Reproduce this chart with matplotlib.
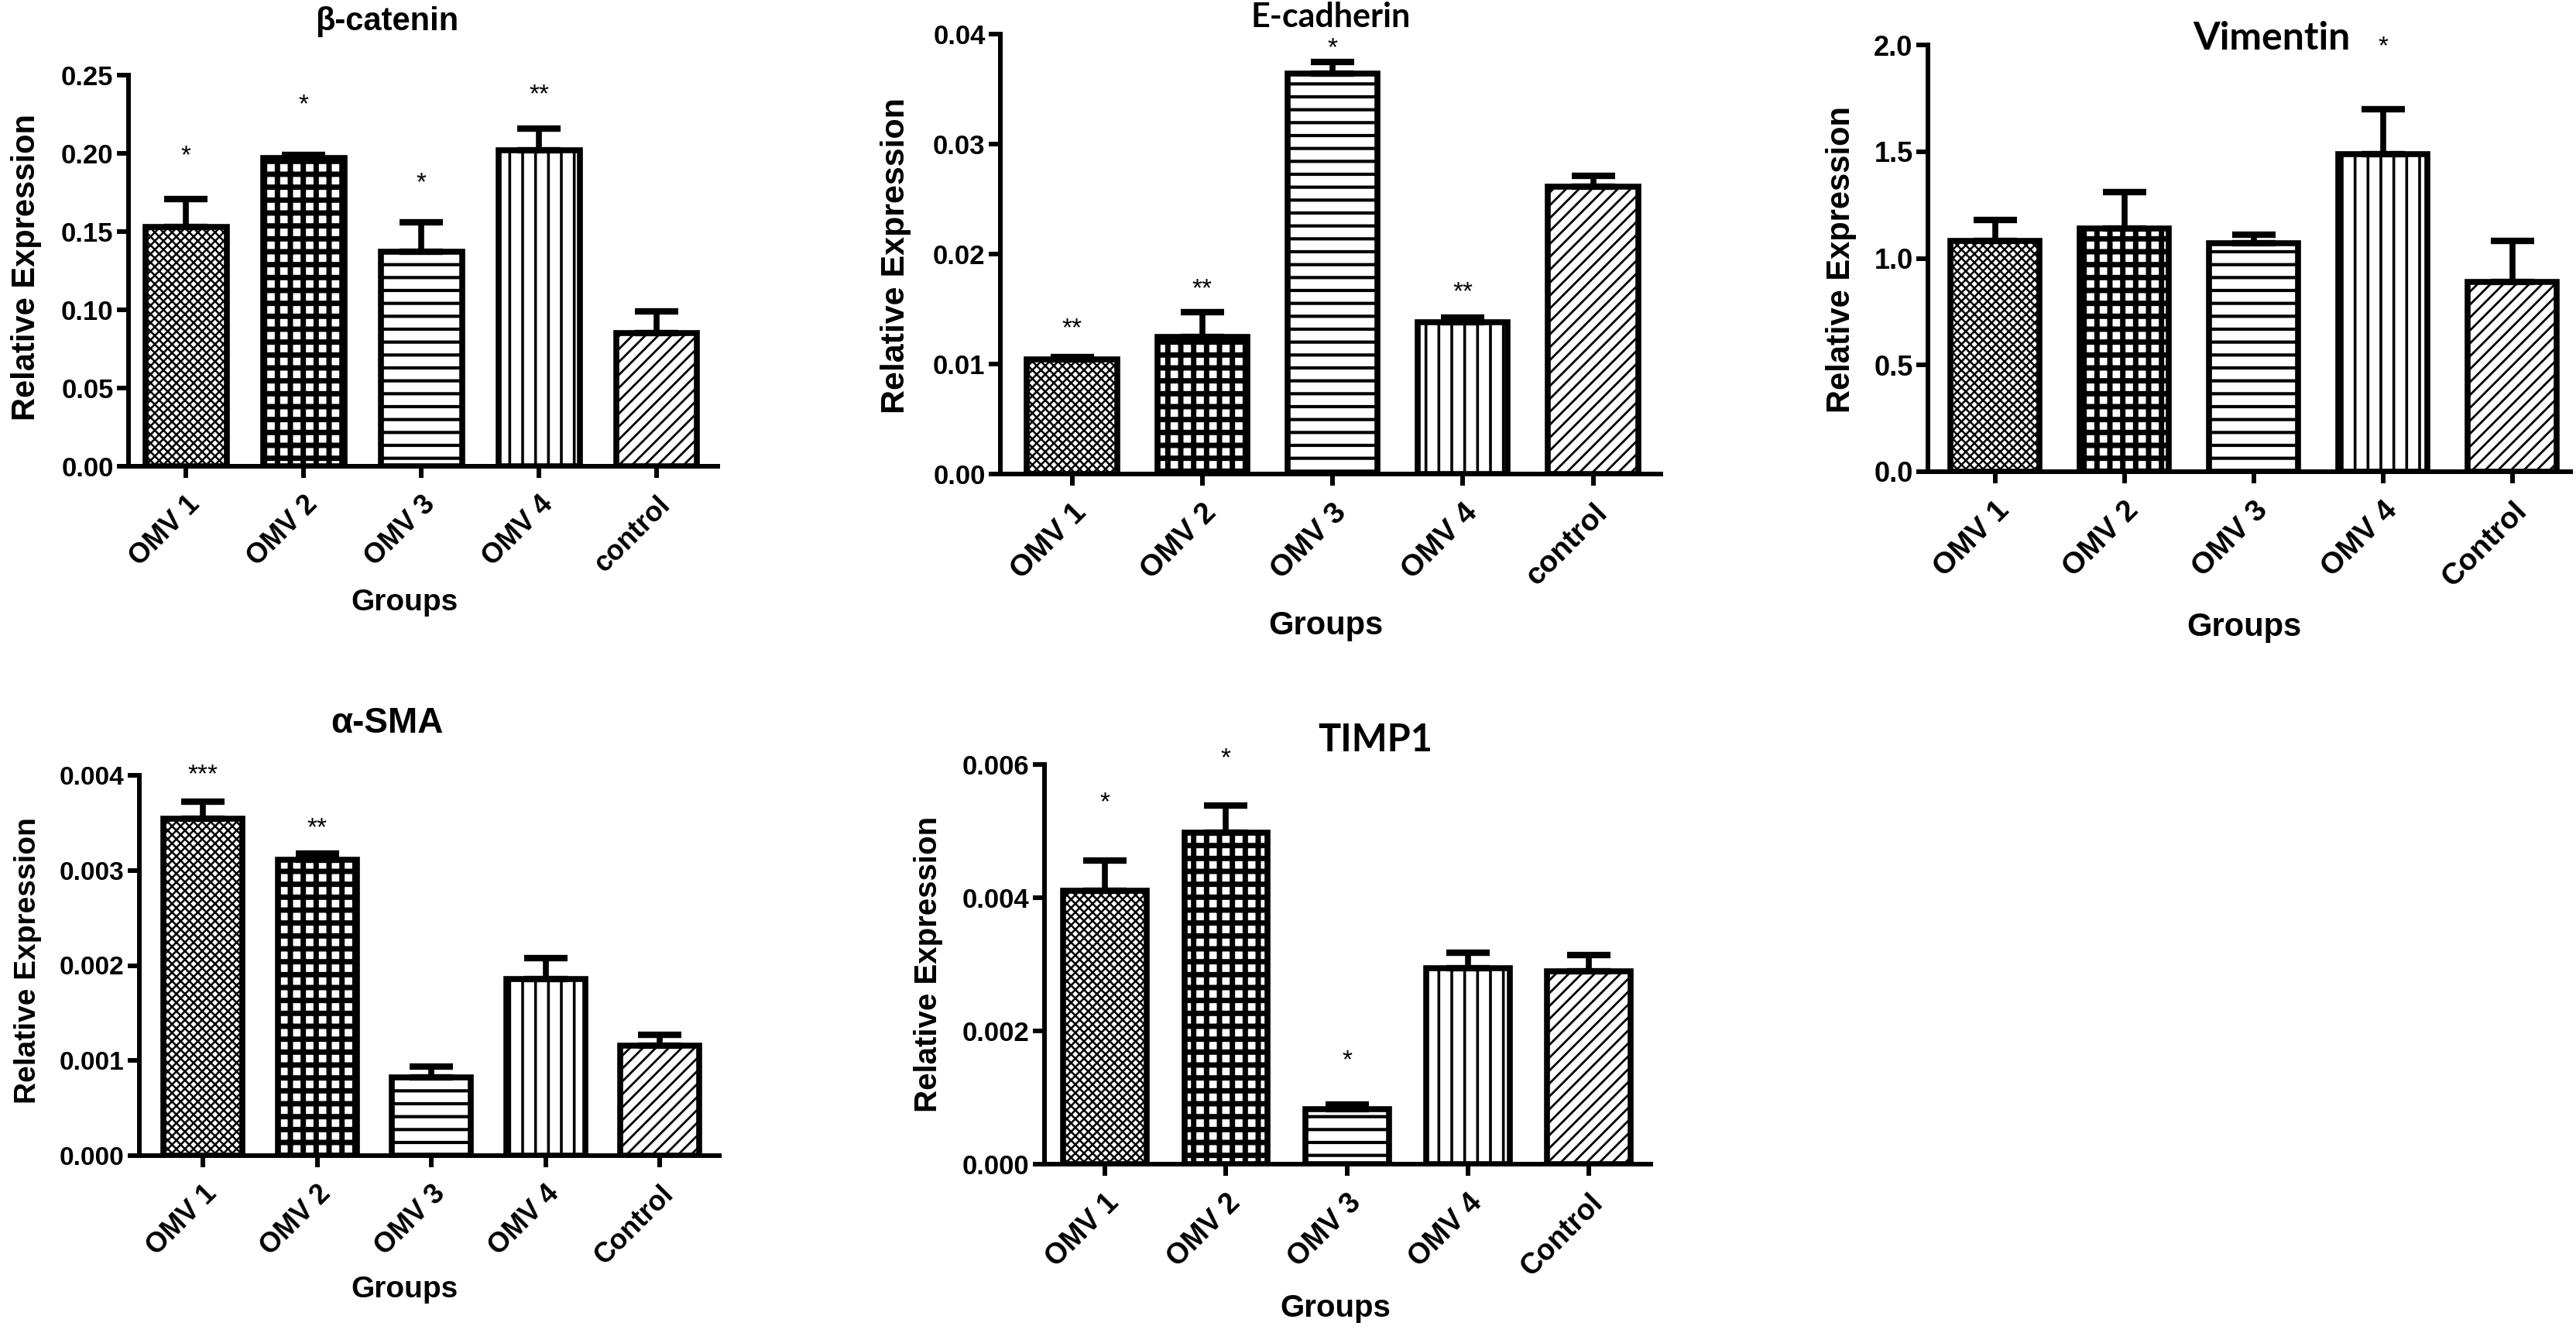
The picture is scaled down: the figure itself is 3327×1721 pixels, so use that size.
import numpy as np
import matplotlib
matplotlib.use('Agg')
import matplotlib.pyplot as plt
from matplotlib.ticker import FormatStrFormatter

# Tamanho final da figura em pixels (dpi=100)
W, H = 3327, 1721

# Categorias
groups_lower = ['OMV 1', 'OMV 2', 'OMV 3', 'OMV 4', 'control']
groups_upper = ['OMV 1', 'OMV 2', 'OMV 3', 'OMV 4', 'Control']

# beta-catenin
bcat_mean = [0.153, 0.197, 0.137, 0.202, 0.085]
bcat_sem = [0.018, 0.002, 0.019, 0.014, 0.014]
bcat_stars = ['*', '*', '*', '**', '']
bcat_star_y = [0.198, 0.231, 0.181, 0.237, 0.0]
bcat_ticks = [0.0, 0.05, 0.10, 0.15, 0.20, 0.25]

# E-cadherin
ecad_mean = [0.0104, 0.0125, 0.0364, 0.0138, 0.0261]
ecad_sem = [0.0002, 0.0022, 0.0011, 0.0004, 0.0010]
ecad_stars = ['**', '**', '*', '**', '']
ecad_star_y = [0.0132, 0.0168, 0.0387, 0.0165, 0.0]
ecad_ticks = [0.0, 0.01, 0.02, 0.03, 0.04]

# Vimentin
vim_mean = [1.08, 1.14, 1.07, 1.49, 0.89]
vim_sem = [0.10, 0.17, 0.04, 0.21, 0.19]
vim_stars = ['', '', '', '*', '']
vim_star_y = [0.0, 0.0, 0.0, 1.99, 0.0]
vim_ticks = [0.0, 0.5, 1.0, 1.5, 2.0]

# alpha-SMA
sma_mean = [0.00354, 0.00311, 0.00082, 0.00186, 0.00116]
sma_sem = [0.00018, 0.00007, 0.00012, 0.00022, 0.00011]
sma_stars = ['***', '**', '', '', '']
sma_star_y = [0.0040, 0.00344, 0.0, 0.0, 0.0]
sma_ticks = [0.0, 0.001, 0.002, 0.003, 0.004]

# TIMP1
timp_mean = [0.00411, 0.00498, 0.00082, 0.00294, 0.00290]
timp_sem = [0.00045, 0.00040, 0.00007, 0.00024, 0.00024]
timp_stars = ['*', '*', '*', '', '']
timp_star_y = [0.00542, 0.00608, 0.00155, 0.0, 0.0]
timp_ticks = [0.0, 0.002, 0.004, 0.006]

# Padrões (um por grupo) e espessura das hachuras
HATCHES = ['xxx', '+', '-', '|', '//']
HATCH_LW = [1.8, 5.0, 3.0, 2.6, 2.0]

plt.rcParams['font.family'] = ['Liberation Sans', 'DejaVu Sans']
plt.rcParams['font.weight'] = 'bold'


def px_box(left, top, right, bottom):
    return [left / W, 1 - bottom / H, (right - left) / W, (bottom - top) / H]


def fig_text(fig, x, y, s, **kw):
    fig.text(x / W, 1 - y / H, s, **kw)


def draw_panel(fig, box, xlim, mean, sem, stars, star_y, ticks, fmt, labels,
               tick_fs, xlab_fs):
    ax = fig.add_axes(px_box(*box))
    x = np.arange(len(mean))

    bars = ax.bar(x, mean, width=0.69, color='white', edgecolor='black',
                  linewidth=5.5, zorder=2)
    for bar, h, lw in zip(bars, HATCHES, HATCH_LW):
        bar.set_hatch(h)
        if hasattr(bar, 'set_hatch_linewidth'):
            bar.set_hatch_linewidth(lw)

    ax.errorbar(x, mean, yerr=[np.zeros(len(sem)), sem], fmt='none',
                ecolor='black', elinewidth=5.5, capsize=20, capthick=6,
                zorder=3, clip_on=False)

    for xi, s, yi in zip(x, stars, star_y):
        if s:
            ax.text(xi, yi, s, ha='center', va='center', fontsize=24,
                    fontweight='normal', clip_on=False)

    ax.set_xlim(*xlim)
    ax.set_ylim(ticks[0], ticks[-1])
    ax.set_yticks(ticks)
    ax.yaxis.set_major_formatter(FormatStrFormatter(fmt))
    ax.set_xticks(x)
    ax.set_xticklabels(labels, rotation=45, ha='right', rotation_mode='anchor')

    for side in ['top', 'right']:
        ax.spines[side].set_visible(False)
    for side in ['left', 'bottom']:
        ax.spines[side].set_linewidth(4.3)

    ax.tick_params(axis='both', direction='out', length=11, width=4.3)
    ax.tick_params(axis='y', labelsize=tick_fs, pad=3)
    ax.tick_params(axis='x', labelsize=xlab_fs, pad=12)
    return ax


fig = plt.figure(figsize=(W / 100, H / 100), dpi=100)

# --- beta-catenin ---
draw_panel(fig, (166, 97, 927, 602), (-0.49, 4.52), bcat_mean, bcat_sem,
           bcat_stars, bcat_star_y, bcat_ticks, '%.2f', groups_lower, 25, 26)
fig_text(fig, 500, 28, 'β-catenin', ha='center', va='center', fontsize=30)
fig_text(fig, 34, 345, 'Relative Expression', rotation=90, ha='center',
         va='center', fontsize=30)
fig_text(fig, 522, 778, 'Groups', ha='center', va='center', fontsize=28)

# --- E-cadherin ---
draw_panel(fig, (1292, 44, 2145, 612), (-0.55, 4.52), ecad_mean, ecad_sem,
           ecad_stars, ecad_star_y, ecad_ticks, '%.2f', groups_lower, 25, 28)
fig_text(fig, 1719, 22, 'E-cadherin', ha='center', va='center', fontsize=31,
         family='Lato')
fig_text(fig, 1157, 330, 'Relative Expression', rotation=90, ha='center',
         va='center', fontsize=31)
fig_text(fig, 1712, 808, 'Groups', ha='center', va='center', fontsize=30)

# --- Vimentin ---
draw_panel(fig, (2490, 58, 3320, 609), (-0.52, 4.45), vim_mean, vim_sem,
           vim_stars, vim_star_y, vim_ticks, '%.1f', groups_upper, 26, 28)
fig_text(fig, 2934, 50, 'Vimentin', ha='center', va='center', fontsize=36,
         family='Lato')
fig_text(fig, 2378, 335, 'Relative Expression', rotation=90, ha='center',
         va='center', fontsize=30)
fig_text(fig, 2898, 810, 'Groups', ha='center', va='center', fontsize=30)

# --- alpha-SMA ---
draw_panel(fig, (180, 1001, 929, 1492), (-0.556, 4.52), sma_mean, sma_sem,
           sma_stars, sma_star_y, sma_ticks, '%.3f', groups_upper, 24, 26)
fig_text(fig, 500, 934, 'α-SMA', ha='center', va='center', fontsize=33)
fig_text(fig, 36, 1240, 'Relative Expression', rotation=90, ha='center',
         va='center', fontsize=28)
fig_text(fig, 522, 1665, 'Groups', ha='center', va='center', fontsize=28)

# --- TIMP1 ---
draw_panel(fig, (1349, 987, 2132, 1503), (-0.5, 4.51), timp_mean, timp_sem,
           timp_stars, timp_star_y, timp_ticks, '%.3f', groups_upper, 25, 27)
fig_text(fig, 1776, 956, 'TIMP1', ha='center', va='center', fontsize=35,
         family='Lato')
fig_text(fig, 1199, 1245, 'Relative Expression', rotation=90, ha='center',
         va='center', fontsize=29)
fig_text(fig, 1725, 1689, 'Groups', ha='center', va='center', fontsize=29)

fig.savefig('out.png', dpi=100, facecolor='white')
